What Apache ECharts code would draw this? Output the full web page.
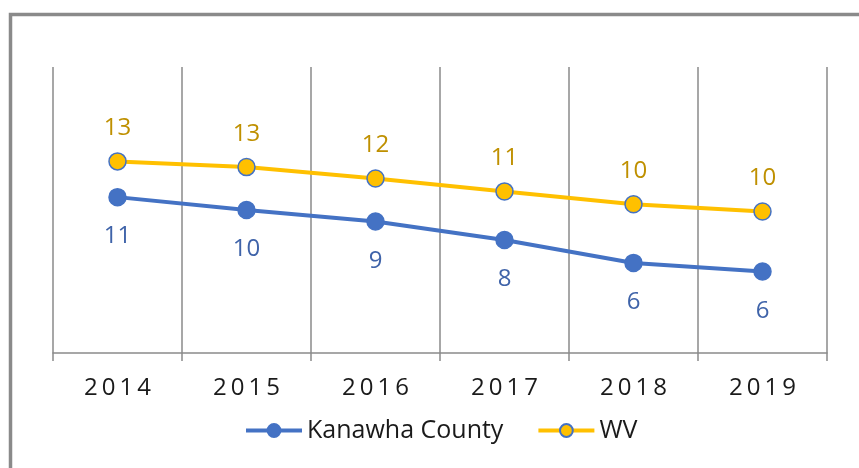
<!DOCTYPE html>
<html><head><meta charset="utf-8">
<script src="https://cdn.jsdelivr.net/npm/echarts@6/dist/echarts.min.js"></script>
<style>html,body{margin:0;padding:0;background:#fff}#c{width:859px;height:468px}</style>
</head><body><div id="c"></div>
<script>
var categories = ['2014','2015','2016','2017','2018','2019'];
var kanawha = [10.9, 10.0, 9.2, 7.9, 6.3, 5.7];
var wv = [13.4, 13.0, 12.2, 11.3, 10.4, 9.9];
var seriesNames = ['Kanawha County','WV'];

var FONT = 'Open Sans';
var chart = echarts.init(document.getElementById('c'));
chart.setOption({
  animation: false,
  graphic: [{
    type: 'rect', left: 8, top: 12,
    shape: {x: 0, y: 0, width: 900, height: 500},
    style: {fill: 'none', stroke: '#8a8a8a', lineWidth: 3.5}
  }],
  grid: {left: 53, right: 32, top: 67, bottom: 115},
  legend: {
    bottom: 20, left: 239, itemWidth: 56, itemHeight: 16, itemGap: 33,
    lineStyle: {width: 4},
    textStyle: {fontFamily: FONT, fontSize: 25, color: '#1a1a1a'},
    data: seriesNames
  },
  xAxis: {
    type: 'category', data: categories, boundaryGap: true,
    axisLine: {lineStyle: {color: '#8a8a8a', width: 1.5}},
    axisTick: {show: true, length: 8, interval: 0, lineStyle: {color: '#8a8a8a', width: 1.5}},
    splitLine: {show: true, interval: 0, lineStyle: {color: '#8a8a8a', width: 1.5}},
    axisLabel: {
      margin: 23, fontFamily: FONT, fontSize: 24, color: '#1a1a1a',
      formatter: function (v) { return v.split('').join('\u2009'); }
    }
  },
  yAxis: {
    type: 'value', min: 0, max: 20, interval: 5, show: false,
    splitLine: {show: false}
  },
  series: [{
    name: seriesNames[0], type: 'line', data: kanawha,
    symbol: 'circle', symbolSize: 17,
    lineStyle: {color: '#4472C4', width: 4},
    itemStyle: {color: '#4472C4', borderColor: '#4472C4', borderWidth: 1.5},
    label: {show: true, position: 'bottom', distance: 18, fontFamily: FONT, fontSize: 24, color: '#3F63A9',
      formatter: function (p) { return Math.round(p.value); }}
  }, {
    name: seriesNames[1], type: 'line', data: wv,
    symbol: 'circle', symbolSize: 17,
    lineStyle: {color: '#FFC000', width: 4},
    itemStyle: {color: '#FFC000', borderColor: '#4472C4', borderWidth: 1.5},
    label: {show: true, position: 'top', distance: 12, fontFamily: FONT, fontSize: 24, color: '#BF9000',
      formatter: function (p) { return Math.round(p.value); }}
  }]
});
</script></body></html>
